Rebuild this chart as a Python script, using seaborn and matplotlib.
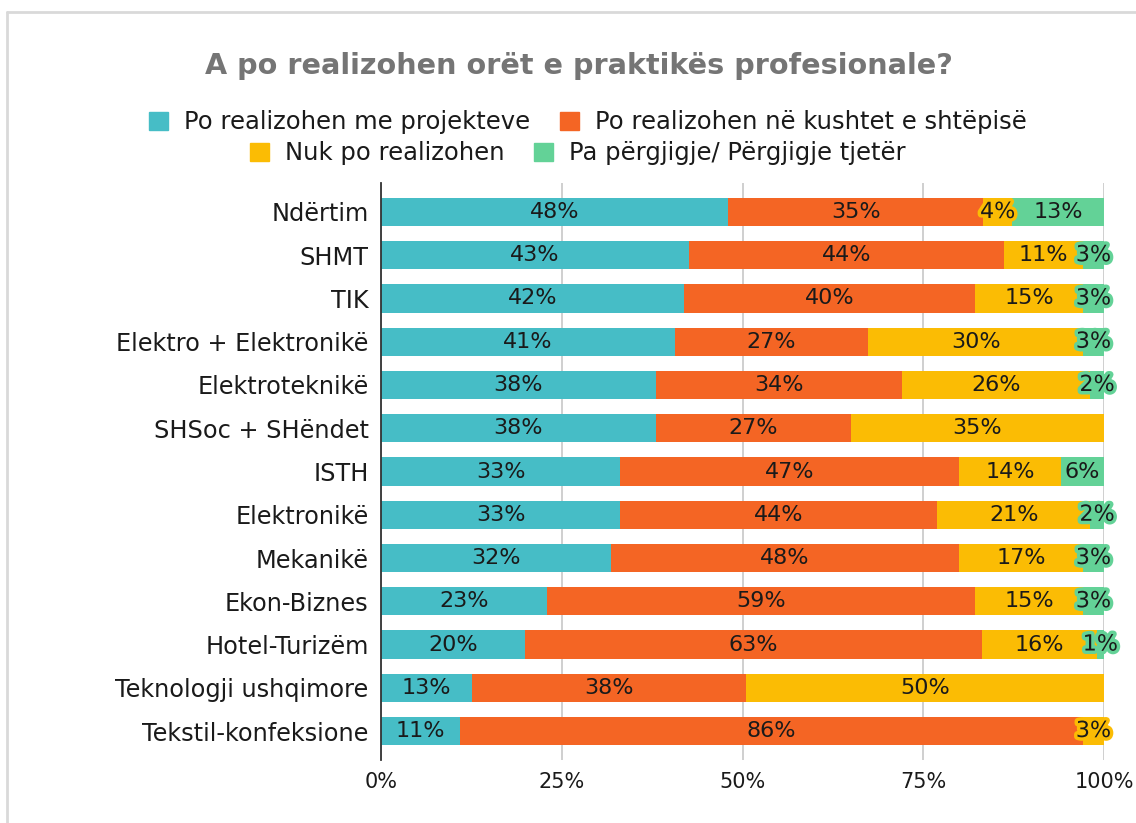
import matplotlib
matplotlib.use("Agg")
import matplotlib.pyplot as plt
import matplotlib.patheffects as pe
from matplotlib.patches import Patch
from matplotlib.lines import Line2D
import seaborn as sns
import numpy as np
import pandas as pd

categories = ["Ndërtim", "SHMT", "TIK", "Elektro + Elektronikë", "Elektroteknikë",
              "SHSoc + SHëndet", "ISTH", "Elektronikë", "Mekanikë", "Ekon-Biznes",
              "Hotel-Turizëm", "Teknologji ushqimore", "Tekstil-konfeksione"]
projekte = [48.0, 42.6, 41.9, 40.6, 38.0, 38.0, 33.1, 33.1, 31.8, 23.0, 19.9, 12.6, 10.9]
shtepi = [35.3, 43.6, 40.3, 26.8, 34.1, 27.0, 46.9, 43.8, 48.2, 59.2, 63.2, 37.9, 86.2]
nuk = [4.0, 10.9, 14.9, 29.7, 26.0, 35.0, 14.1, 21.2, 17.1, 14.9, 15.9, 49.5, 2.9]
pa = [12.7, 2.9, 2.9, 2.9, 1.9, 0.0, 5.9, 1.9, 2.9, 2.9, 1.0, 0.0, 0.0]

series_names = ["Po realizohen me projekteve", "Po realizohen në kushtet e shtëpisë",
                "Nuk po realizohen", "Pa përgjigje/ Përgjigje tjetër"]
colors = ["#46BDC6", "#F46524", "#FBBC04", "#63D297"]
xticks = [0, 25, 50, 75, 100]
xticklabels = ["0%", "25%", "50%", "75%", "100%"]

sns.set_theme(style="white")
plt.rcParams['font.family'] = ['DejaVu Sans']

fig = plt.figure(figsize=(11.36, 8.23), dpi=100)
ax = fig.add_axes([381/1136, 1-760/823, (1104-381)/1136, (760-183)/823])

vals = np.array([projekte, shtepi, nuk, pa])
cum = np.cumsum(vals, axis=0)
df = pd.DataFrame({"cat": categories})
for i in range(3, -1, -1):
    df["v"] = cum[i]
    sns.barplot(data=df, x="v", y="cat", color=colors[i], orient="h", ax=ax,
                width=0.65, linewidth=0, saturation=1, zorder=2)

# value labels
for i in range(4):
    for j in range(len(categories)):
        v = vals[i, j]
        if v <= 0:
            continue
        xc = cum[i, j] - v / 2
        t = ax.text(xc, j, f"{v:.0f}%", ha="center", va="center",
                    fontsize=16, color="#1a1a1a", zorder=5)
        if v < 5:
            t.set_path_effects([pe.withStroke(linewidth=5, foreground=colors[i])])

ax.set_xlim(0, 100)
ax.set_ylim(12.67, -0.67)
ax.set_xticks(xticks)
ax.set_xticklabels(xticklabels)
ax.set_xlabel("")
ax.set_ylabel("")
ax.grid(axis="x", color="#cccccc", linewidth=1.3, zorder=0)
ax.set_axisbelow(True)
for s in ["top", "right", "bottom"]:
    ax.spines[s].set_visible(False)
ax.spines["left"].set_color("#333333")
ax.spines["left"].set_linewidth(1.3)
ax.spines["left"].set_zorder(6)
ax.tick_params(axis="x", length=0, pad=9, labelsize=15, colors="#1a1a1a")
ax.tick_params(axis="y", length=0, pad=9, labelsize=17.3, colors="#1a1a1a")

# title
fig.text(579/1136, 1-74.3/823, "A po realizohen orët e praktikës profesionale?",
         ha="center", va="baseline", fontsize=20.6, fontweight="bold", color="#757575")

# legend rows
handles = [Patch(facecolor=c, edgecolor=c) for c in colors]
leg_kw = dict(loc="center", ncol=2, frameon=False, fontsize=17.5,
              handlelength=0.78, handleheight=0.76, handletextpad=0.66,
              columnspacing=1.23, borderpad=0)
leg1 = fig.legend(handles[:2], series_names[:2],
                  bbox_to_anchor=(588/1136, 1-122/823), **leg_kw)
leg2 = fig.legend(handles[2:], series_names[2:],
                  bbox_to_anchor=(578/1136, 1-153/823), **leg_kw)
for leg in (leg1, leg2):
    for t in leg.get_texts():
        t.set_color("#1a1a1a")

# outer card border
fig.add_artist(Line2D([7/1136, 1], [1-12/823, 1-12/823], color="#d9d9d9", linewidth=2,
                      transform=fig.transFigure))
fig.add_artist(Line2D([7/1136, 7/1136], [0, 1-12/823], color="#d9d9d9", linewidth=2,
                      transform=fig.transFigure))

fig.savefig("out.png", dpi=100)
